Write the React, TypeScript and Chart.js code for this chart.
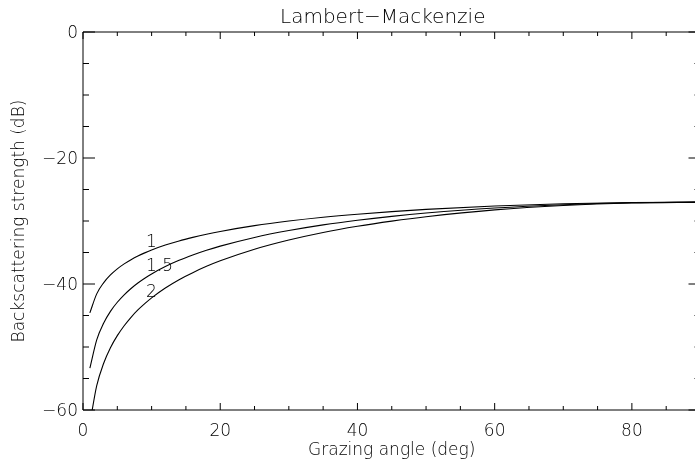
import React, { useEffect, useRef } from 'react';
import { Chart, registerables } from 'chart.js';

Chart.register(...registerables);

// Grazing angle samples (deg)
const angles = [1, 2, 3, 4, 5, 6, 7, 8, 9, 10, 12, 14, 16, 18, 20, 25, 30, 35, 40, 45, 50, 60, 70, 80, 90];
// Backscattering strength (dB) for the three curves
const bsN1 = [-44.58, -41.57, -39.81, -38.56, -37.6, -36.81, -36.14, -35.56, -35.06, -34.6, -33.82, -33.16, -32.6, -32.1, -31.66, -30.74, -30.01, -29.41, -28.92, -28.51, -28.16, -27.62, -27.27, -27.07, -27.0];
const bsN15 = [-53.37, -48.86, -46.22, -44.34, -42.9, -41.72, -40.71, -39.84, -39.09, -38.4, -37.23, -36.24, -35.4, -34.65, -33.99, -32.61, -31.52, -30.62, -29.88, -29.26, -28.74, -27.94, -27.41, -27.1, -27.0];
const bsN2 = [-62.16, -56.14, -52.62, -50.12, -48.2, -46.62, -45.28, -44.12, -43.12, -42.2, -40.64, -39.32, -38.2, -37.2, -36.32, -34.48, -33.02, -31.82, -30.84, -30.02, -29.32, -28.24, -27.54, -27.14, -27.0];

const curveLabels = ['1', '1.5', '2'];
const labelAngle = [9.2, 9.2, 9.2];
const labelLevel = [-34.1, -38.0, -42.1];

const titleText = 'Lambert\u2212Mackenzie';
const xTitle = 'Grazing angle (deg)';
const yTitle = 'Backscattering strength (dB)';

const FONT = 'DejaVu Sans';
const WEIGHT = 200;
const TXT = '#000';

const framePlugin = {
  id: 'idlFrame',
  afterDatasetsDraw(chart: any) {
    const { ctx, chartArea: a, scales } = chart;
    const x = scales.x;
    const y = scales.y;
    ctx.save();
    ctx.strokeStyle = '#000';
    ctx.lineWidth = 1;
    ctx.beginPath();
    ctx.rect(a.left, a.top, a.right - a.left, a.bottom - a.top);
    for (let v = 0; v <= 90; v += 5) {
      const px = x.getPixelForValue(v);
      const len = v % 20 === 0 ? 7 : 4;
      ctx.moveTo(px, a.bottom);
      ctx.lineTo(px, a.bottom - len);
      ctx.moveTo(px, a.top);
      ctx.lineTo(px, a.top + len);
    }
    for (let v = -60; v <= 0; v += 5) {
      const py = y.getPixelForValue(v);
      const len = v % 20 === 0 ? 12 : 6;
      ctx.moveTo(a.left, py);
      ctx.lineTo(a.left + len, py);
      ctx.moveTo(a.right, py);
      ctx.lineTo(a.right - len, py);
    }
    ctx.stroke();

    ctx.fillStyle = TXT;
    ctx.font = `${WEIGHT} 17px "${FONT}"`;
    ctx.textAlign = 'left';
    ctx.textBaseline = 'alphabetic';
    curveLabels.forEach((t, i) => {
      ctx.fillText(t, x.getPixelForValue(labelAngle[i]), y.getPixelForValue(labelLevel[i]));
    });

    ctx.font = `${WEIGHT} 20px "${FONT}"`;
    ctx.textAlign = 'center';
    ctx.fillText(titleText, (a.left + a.right) / 2 - 9, a.top - 9);
    ctx.restore();
  },
};

const fmt = (v: number) => (v < 0 ? '\u2212' + Math.abs(v) : String(v));

export default function App() {
  const ref = useRef<HTMLCanvasElement | null>(null);
  useEffect(() => {
    document.documentElement.style.overflow = 'hidden';
    document.body.style.overflow = 'hidden';
    document.body.style.margin = '0';
    const canvas = ref.current!;
    const mk = (vals: number[]) => angles.map((a, i) => ({ x: a, y: vals[i] }));
    const ds = (vals: number[]) => ({
      data: mk(vals),
      borderColor: '#000',
      borderWidth: 1.1,
      pointRadius: 0,
      fill: false,
      cubicInterpolationMode: 'monotone' as const,
    });
    const font = { family: FONT, size: 17, weight: WEIGHT as any };
    const chart = new Chart(canvas, {
      type: 'line',
      data: { datasets: [ds(bsN1), ds(bsN15), ds(bsN2)] },
      options: {
        animation: false,
        responsive: false,
        devicePixelRatio: 1,
        layout: { padding: { left: 0, right: 19.5, top: 32, bottom: 0 } },
        plugins: { legend: { display: false }, tooltip: { enabled: false }, title: { display: false } },
        scales: {
          x: {
            type: 'linear',
            min: 0,
            max: 90,
            grid: { display: false, drawTicks: false },
            border: { display: false },
            ticks: {
              stepSize: 20,
              includeBounds: false,
              padding: 11,
              maxRotation: 0,
              color: TXT,
              font,
              callback: (v: any) => fmt(Number(v)),
            },
            title: {
              display: true,
              text: xTitle,
              color: TXT,
              font,
              padding: { top: 0, bottom: 5.5 },
            },
            afterFit: (s: any) => {
              s.height = 56;
            },
          },
          y: {
            type: 'linear',
            min: -60,
            max: 0,
            grid: { display: false, drawTicks: false },
            border: { display: false },
            ticks: {
              stepSize: 20,
              padding: 5,
              labelOffset: 1.5,
              color: TXT,
              font,
              callback: (v: any) => fmt(Number(v)),
            },
            title: {
              display: true,
              text: yTitle,
              color: TXT,
              font,
              padding: { top: 9.5, bottom: 0 },
            },
            afterFit: (s: any) => {
              s.width = 83;
            },
          },
        },
      },
      plugins: [framePlugin],
    });
    return () => chart.destroy();
  }, []);
  return (
    <div style={{ position: 'fixed', left: 0, top: 0, width: 720, height: 466, background: '#fff' }}>
      <canvas ref={ref} width={720} height={466} />
    </div>
  );
}
